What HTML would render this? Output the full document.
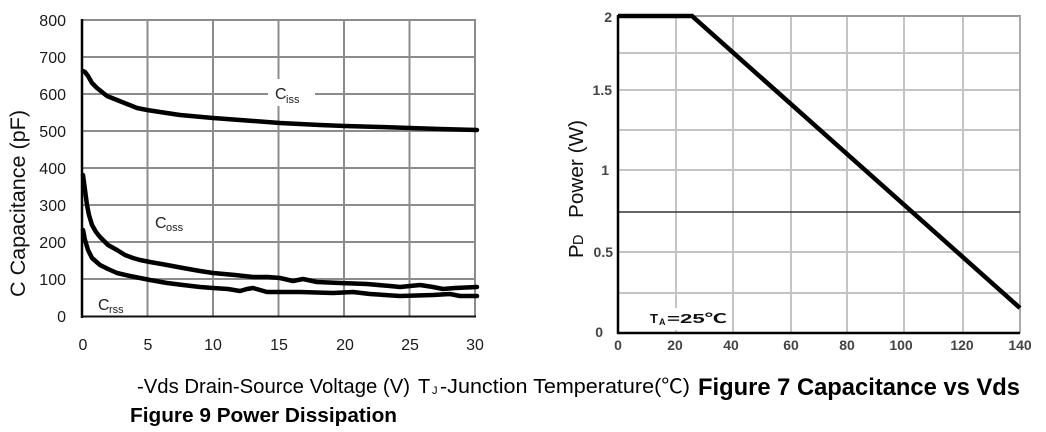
<!DOCTYPE html>
<html><head><meta charset="utf-8"><style>
html,body{margin:0;padding:0;background:#fff;}
svg{display:block;}
text{font-family:"Liberation Sans","Noto Sans CJK SC",sans-serif;}
</style></head><body>
<svg width="1046" height="432" viewBox="0 0 1046 432" xmlns="http://www.w3.org/2000/svg">
<rect width="1046" height="432" fill="#fff"/>
<!-- LEFT CHART -->
<g stroke="#8c8c8c" stroke-width="2" fill="none">
<line x1="82" y1="20" x2="476" y2="20"/>
<line x1="82" y1="57" x2="476" y2="57"/>
<line x1="82" y1="94" x2="476" y2="94"/>
<line x1="82" y1="131" x2="476" y2="131"/>
<line x1="82" y1="168" x2="476" y2="168"/>
<line x1="82" y1="205" x2="476" y2="205"/>
<line x1="82" y1="242" x2="476" y2="242"/>
<line x1="82" y1="279" x2="476" y2="279"/>
<line x1="147.5" y1="20" x2="147.5" y2="317"/>
<line x1="213" y1="20" x2="213" y2="317"/>
<line x1="278.5" y1="20" x2="278.5" y2="317"/>
<line x1="344" y1="20" x2="344" y2="317"/>
<line x1="409.5" y1="20" x2="409.5" y2="317"/>
<line x1="475" y1="20" x2="475" y2="317"/>
</g>
<line x1="82" y1="19" x2="82" y2="318" stroke="#000" stroke-width="2.5"/>
<line x1="81" y1="316.5" x2="476" y2="316.5" stroke="#111" stroke-width="2"/>
<rect x="268" y="79" width="47" height="27" fill="#fff"/>
<g fill="none" stroke="#000" stroke-width="4.5" stroke-linejoin="round" stroke-linecap="round">
<polyline points="83,71 85,72 88,76 92,83 97,88 107,96 117,100 127,104 137,108 147,110 160,112 180,115 213,118 240,120 280,123 320,125 345,126 380,127 410,128 440,129 477,130"/>
<polyline points="83,175 85,190 87,205 89,215 92,225 96,232 100,237 108,245 117,250 125,255 133,258 140,260 150,262 167,265 183,268 200,271 213,273 235,275 253,277 268,277 280,278 293,281 303,279 317,282 340,283 367,284 390,286 400,287 420,285 433,287 443,289 455,288 477,287"/>
<polyline points="83,230 85,240 88,250 92,258 100,265 108,269 117,273 130,276 150,280 167,283 183,285 200,287 213,288 228,289 240,291 247,289 253,288 260,290 267,292 300,292 333,293 353,292 370,294 400,296 433,295 450,294 460,296 477,296"/>
</g>
<g font-size="16" fill="#222">
<text x="275" y="99">C</text><text x="286" y="103" font-size="11">iss</text>
<text x="155" y="228">C</text><text x="166" y="231" font-size="11">oss</text>
<text x="98" y="310">C</text><text x="109" y="313" font-size="11">rss</text>
</g>
<g font-size="16" fill="#1a1a1a" text-anchor="end">
<text x="66" y="26">800</text>
<text x="66" y="63">700</text>
<text x="66" y="100">600</text>
<text x="66" y="137">500</text>
<text x="66" y="174">400</text>
<text x="66" y="211">300</text>
<text x="66" y="248">200</text>
<text x="66" y="285">100</text>
<text x="66" y="322">0</text>
</g>
<g font-size="16" fill="#1a1a1a" text-anchor="middle">
<text x="83" y="350">0</text>
<text x="148" y="350">5</text>
<text x="213" y="350">10</text>
<text x="279" y="350">15</text>
<text x="345" y="350">20</text>
<text x="410" y="350">25</text>
<text x="475" y="350">30</text>
</g>
<text transform="translate(25,297) rotate(-90)" font-size="21.5" fill="#111" textLength="187" lengthAdjust="spacingAndGlyphs">C Capacitance (pF)</text>

<!-- RIGHT CHART -->
<g stroke="#c4c4c4" stroke-width="2" fill="none">
<line x1="618" y1="53" x2="1020" y2="53"/>
<line x1="618" y1="90" x2="1020" y2="90"/>
<line x1="618" y1="130" x2="1020" y2="130"/>
<line x1="618" y1="170" x2="1020" y2="170"/>
<line x1="618" y1="252" x2="1020" y2="252"/>
<line x1="618" y1="293" x2="1020" y2="293"/>
<line x1="676" y1="16" x2="676" y2="333"/>
<line x1="733" y1="16" x2="733" y2="333"/>
<line x1="791" y1="16" x2="791" y2="333"/>
<line x1="847" y1="16" x2="847" y2="333"/>
<line x1="904" y1="16" x2="904" y2="333"/>
<line x1="963" y1="16" x2="963" y2="333"/>
</g>
<line x1="618" y1="16" x2="1021" y2="16" stroke="#9a9a9a" stroke-width="2"/>
<line x1="1020" y1="16" x2="1020" y2="333" stroke="#aaa" stroke-width="2"/>
<line x1="618" y1="212" x2="1020" y2="212" stroke="#333" stroke-width="1.5"/>
<line x1="618" y1="15" x2="618" y2="334" stroke="#000" stroke-width="2.5"/>
<line x1="617" y1="333" x2="1020" y2="333" stroke="#000" stroke-width="2.5"/>
<polyline points="618,16 692,16 1020,308" fill="none" stroke="#000" stroke-width="4.5" stroke-linejoin="miter"/>
<rect x="648" y="308" width="82" height="22" fill="#fff"/>
<g font-weight="bold" font-size="13" fill="#111">
<text x="650" y="323">T</text><text x="659" y="325" font-size="9">A</text><text x="667" y="323" textLength="60" lengthAdjust="spacingAndGlyphs">=25℃</text>
</g>
<g font-weight="bold" font-size="14" fill="#444" text-anchor="end">
<text x="612" y="22">2</text>
<text x="612" y="95">1.5</text>
<text x="609" y="175">1</text>
<text x="613" y="257">0.5</text>
<text x="603" y="337">0</text>
</g>
<g font-weight="bold" font-size="14" fill="#444" text-anchor="middle">
<text x="618" y="350">0</text>
<text x="675" y="350">20</text>
<text x="731" y="350">40</text>
<text x="791" y="350">60</text>
<text x="847" y="350">80</text>
<text x="901" y="350">100</text>
<text x="962" y="350">120</text>
<text x="1020" y="350">140</text>
</g>
<text transform="translate(583,258) rotate(-90)" font-size="20.5" fill="#111">P</text>
<text transform="translate(583,245) rotate(-90)" font-size="14.5" fill="#111">D</text>
<text transform="translate(583,218) rotate(-90)" font-size="20.5" fill="#111" textLength="98" lengthAdjust="spacingAndGlyphs">Power (W)</text>

<!-- CAPTIONS -->
<text x="137" y="393" font-size="20" fill="#000" textLength="273" lengthAdjust="spacingAndGlyphs">-Vds Drain-Source Voltage (V)</text>
<text x="418" y="393" font-size="20" fill="#000">T</text>
<text x="432" y="394" font-size="11" fill="#000">J</text>
<text x="440" y="393" font-size="20" fill="#000" textLength="250" lengthAdjust="spacingAndGlyphs">-Junction Temperature(℃)</text>
<text x="698" y="395" font-size="24" font-weight="bold" fill="#000" textLength="322" lengthAdjust="spacingAndGlyphs">Figure 7 Capacitance vs Vds</text>
<text x="130" y="422" font-size="20" font-weight="bold" fill="#000" textLength="267" lengthAdjust="spacingAndGlyphs">Figure 9 Power Dissipation</text>
</svg>
</body></html>
